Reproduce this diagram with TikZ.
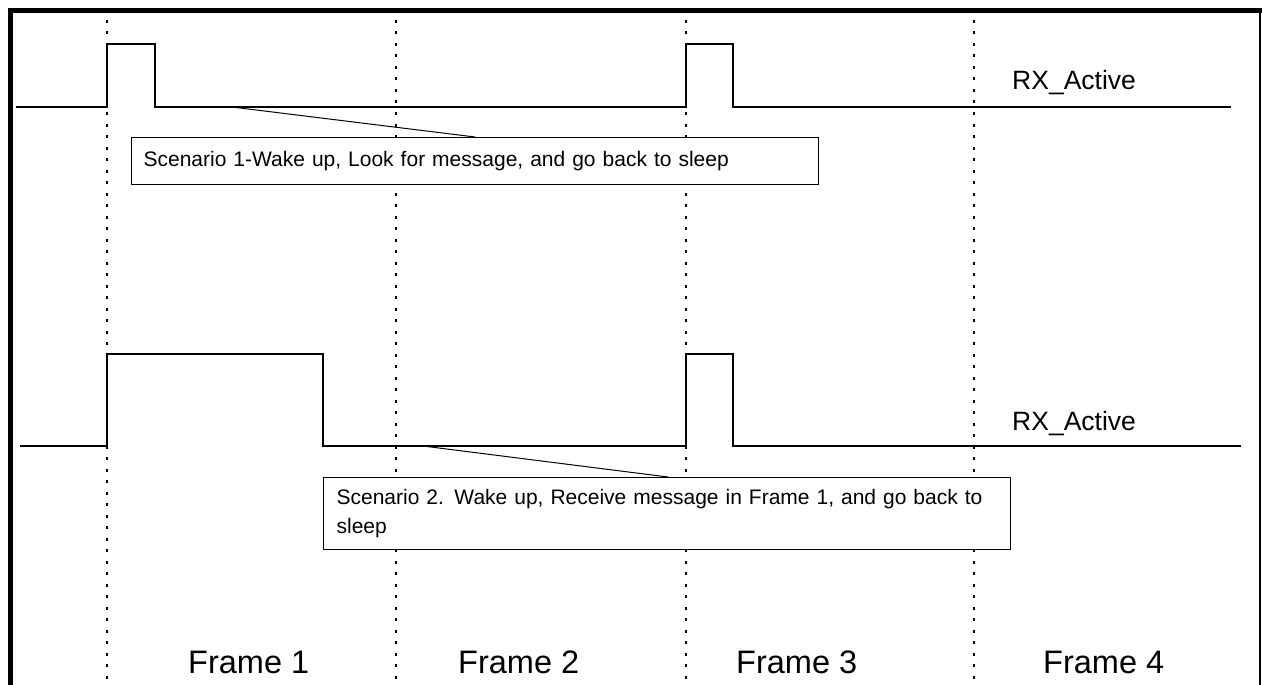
\documentclass[tikz,border=0pt]{standalone}
\usepackage{fontspec}
\setmainfont{Liberation Sans}
\begin{document}
\begin{tikzpicture}[x=1pt,y=-1pt,
  signal/.style={line width=2pt, line join=miter},
  frameline/.style={line width=2pt, dash pattern=on 3pt off 8.5pt},
  callbox/.style={draw, fill=white, line width=1.2pt, anchor=north west, align=left, inner ysep=0pt},
  leader/.style={line width=1pt},
  sig/.style={font=\fontsize{26.5}{30}\selectfont, anchor=base west, inner sep=0pt},
  frm/.style={font=\fontsize{32.5}{38}\selectfont, anchor=base west, inner sep=0pt},
  note/.style={font=\fontsize{21}{29}\selectfont}]
\useasboundingbox (0,0) rectangle (1262,685);
% border
\draw[line width=5pt] (1262,10.5) -- (10.5,10.5) -- (10.5,685);
\draw[line width=2pt] (1259.5,10) -- (1259.5,685);
% frame boundaries
\foreach \x/\n in {107/f1,396/f2,686/f3,974/f4}
  \draw[frameline] (\x,20) coordinate (\n top) -- (\x,685) coordinate (\n bot);
% top signal
\draw[signal] (16,107) -- (107,107) -- (107,44) -- (155,44) -- (155,107)
  -- (686,107) -- (686,44) -- (733,44) -- (733,107) -- (1231,107);
% bottom signal
\draw[signal] (20,446) -- (107,446) -- (107,354) -- (323,354) -- (323,446)
  -- (686,446) -- (686,354) -- (733,354) -- (733,446) -- (1241,446);
% labels
\node[sig] (rx1) at (1012,89) {RX\_Active};
\node[sig] (rx2) at (1012,430) {RX\_Active};
% callout boxes
\node[callbox, note, minimum width=687pt, minimum height=47pt, text width=663pt, inner xsep=12pt]
  (box1) at (131,137) {Scenario 1-Wake up, Look for message, and go back to sleep};
\node[callbox, note, minimum width=687pt, minimum height=72pt, text width=661pt, inner xsep=13pt]
  (box2) at (323,477) {Scenario 2. Wake up, Receive message in Frame 1, and go back to\\sleep};
% leaders
\coordinate (l1a) at (232,107);
\coordinate (l1b) at (475,137);
\coordinate (l2a) at (423,446);
\coordinate (l2b) at (668,477);
\draw[leader] (l1a) -- (l1b);
\draw[leader] (l2a) -- (l2b);
% frame labels
\node[frm] (fr1) at (188,673) {Frame 1};
\node[frm] (fr2) at (458,673) {Frame 2};
\node[frm] (fr3) at (736,673) {Frame 3};
\node[frm] (fr4) at (1043,673) {Frame 4};
\end{tikzpicture}
\end{document}
